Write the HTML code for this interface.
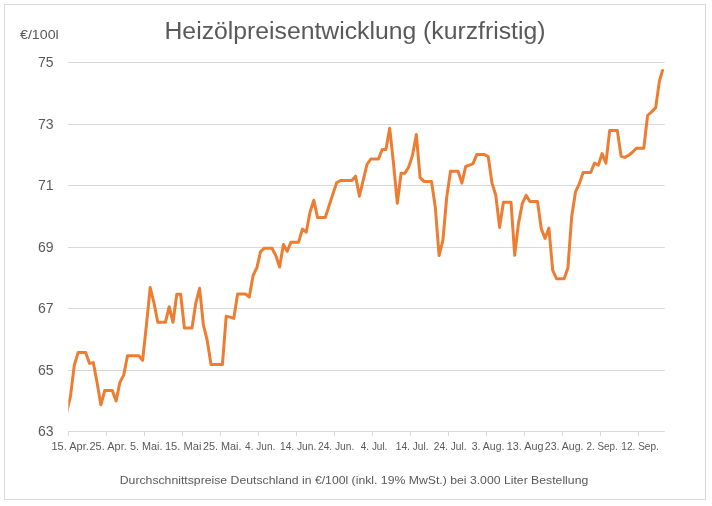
<!DOCTYPE html>
<html><head><meta charset="utf-8"><title>Heizölpreisentwicklung</title>
<style>
html,body{margin:0;padding:0;background:#fff;}
body{width:712px;height:506px;overflow:hidden;font-family:"Liberation Sans",sans-serif;}
svg{display:block;}
text{font-family:"Liberation Sans",sans-serif;fill:#595959;}
svg{will-change:transform;}
</style></head><body>
<svg width="712" height="506" viewBox="0 0 712 506">
<rect x="0" y="0" width="712" height="506" fill="#ffffff"/>
<rect x="4.5" y="4.5" width="701" height="495" fill="#ffffff" stroke="#d9d9d9" stroke-width="1"/>
<defs><clipPath id="plot"><rect x="68.3" y="50" width="600" height="390"/></clipPath></defs>

<line x1="68" x2="664.8" y1="62.5" y2="62.5" stroke="#d9d9d9" stroke-width="1"/>
<line x1="68" x2="664.8" y1="124.5" y2="124.5" stroke="#d9d9d9" stroke-width="1"/>
<line x1="68" x2="664.8" y1="185.5" y2="185.5" stroke="#d9d9d9" stroke-width="1"/>
<line x1="68" x2="664.8" y1="247.5" y2="247.5" stroke="#d9d9d9" stroke-width="1"/>
<line x1="68" x2="664.8" y1="308.5" y2="308.5" stroke="#d9d9d9" stroke-width="1"/>
<line x1="68" x2="664.8" y1="370.5" y2="370.5" stroke="#d9d9d9" stroke-width="1"/>
<line x1="68" x2="664.8" y1="431.5" y2="431.5" stroke="#d9d9d9" stroke-width="1"/>
<line x1="68.5" x2="68.5" y1="431" y2="436" stroke="#d9d9d9" stroke-width="1"/>
<line x1="106.5" x2="106.5" y1="431" y2="436" stroke="#d9d9d9" stroke-width="1"/>
<line x1="144.5" x2="144.5" y1="431" y2="436" stroke="#d9d9d9" stroke-width="1"/>
<line x1="182.5" x2="182.5" y1="431" y2="436" stroke="#d9d9d9" stroke-width="1"/>
<line x1="220.5" x2="220.5" y1="431" y2="436" stroke="#d9d9d9" stroke-width="1"/>
<line x1="258.5" x2="258.5" y1="431" y2="436" stroke="#d9d9d9" stroke-width="1"/>
<line x1="296.5" x2="296.5" y1="431" y2="436" stroke="#d9d9d9" stroke-width="1"/>
<line x1="334.5" x2="334.5" y1="431" y2="436" stroke="#d9d9d9" stroke-width="1"/>
<line x1="372.5" x2="372.5" y1="431" y2="436" stroke="#d9d9d9" stroke-width="1"/>
<line x1="410.5" x2="410.5" y1="431" y2="436" stroke="#d9d9d9" stroke-width="1"/>
<line x1="448.5" x2="448.5" y1="431" y2="436" stroke="#d9d9d9" stroke-width="1"/>
<line x1="486.5" x2="486.5" y1="431" y2="436" stroke="#d9d9d9" stroke-width="1"/>
<line x1="524.5" x2="524.5" y1="431" y2="436" stroke="#d9d9d9" stroke-width="1"/>
<line x1="562.5" x2="562.5" y1="431" y2="436" stroke="#d9d9d9" stroke-width="1"/>
<line x1="600.5" x2="600.5" y1="431" y2="436" stroke="#d9d9d9" stroke-width="1"/>
<line x1="638.5" x2="638.5" y1="431" y2="436" stroke="#d9d9d9" stroke-width="1"/>
<text x="53.6" y="67.1" font-size="14.1" text-anchor="end" textLength="15.6" lengthAdjust="spacingAndGlyphs">75</text>
<text x="53.6" y="129.1" font-size="14.1" text-anchor="end" textLength="15.6" lengthAdjust="spacingAndGlyphs">73</text>
<text x="53.6" y="190.1" font-size="14.1" text-anchor="end" textLength="15.6" lengthAdjust="spacingAndGlyphs">71</text>
<text x="53.6" y="252.1" font-size="14.1" text-anchor="end" textLength="15.6" lengthAdjust="spacingAndGlyphs">69</text>
<text x="53.6" y="313.1" font-size="14.1" text-anchor="end" textLength="15.6" lengthAdjust="spacingAndGlyphs">67</text>
<text x="53.6" y="375.1" font-size="14.1" text-anchor="end" textLength="15.6" lengthAdjust="spacingAndGlyphs">65</text>
<text x="53.6" y="436.1" font-size="14.1" text-anchor="end" textLength="15.6" lengthAdjust="spacingAndGlyphs">63</text>
<text x="20" y="38.8" font-size="12.4" textLength="38.7" lengthAdjust="spacingAndGlyphs">€/100l</text>
<text x="355" y="38.9" font-size="23" text-anchor="middle" textLength="381" lengthAdjust="spacingAndGlyphs">Heizölpreisentwicklung (kurzfristig)</text>
<text x="51.5" y="449.6" font-size="10.75" textLength="37.3" lengthAdjust="spacingAndGlyphs">15. Apr.</text>
<text x="89.5" y="449.6" font-size="10.75" textLength="37.3" lengthAdjust="spacingAndGlyphs">25. Apr.</text>
<text x="129.9" y="449.6" font-size="10.75" textLength="32.5" lengthAdjust="spacingAndGlyphs">5. Mai.</text>
<text x="164.9" y="449.6" font-size="10.75" textLength="36.5" lengthAdjust="spacingAndGlyphs">15. Mai</text>
<text x="202.9" y="449.6" font-size="10.75" textLength="38.6" lengthAdjust="spacingAndGlyphs">25. Mai.</text>
<text x="245.1" y="449.6" font-size="10.75" textLength="30.2" lengthAdjust="spacingAndGlyphs">4. Jun.</text>
<text x="280.0" y="449.6" font-size="10.75" textLength="36.3" lengthAdjust="spacingAndGlyphs">14. Jun.</text>
<text x="318.0" y="449.6" font-size="10.75" textLength="36.3" lengthAdjust="spacingAndGlyphs">24. Jun.</text>
<text x="360.8" y="449.6" font-size="10.75" textLength="26.6" lengthAdjust="spacingAndGlyphs">4. Jul.</text>
<text x="395.8" y="449.6" font-size="10.75" textLength="32.7" lengthAdjust="spacingAndGlyphs">14. Jul.</text>
<text x="433.8" y="449.6" font-size="10.75" textLength="32.7" lengthAdjust="spacingAndGlyphs">24. Jul.</text>
<text x="471.8" y="449.6" font-size="10.75" textLength="32.6" lengthAdjust="spacingAndGlyphs">3. Aug.</text>
<text x="506.8" y="449.6" font-size="10.75" textLength="36.6" lengthAdjust="spacingAndGlyphs">13. Aug</text>
<text x="544.8" y="449.6" font-size="10.75" textLength="38.7" lengthAdjust="spacingAndGlyphs">23. Aug.</text>
<text x="586.4" y="449.6" font-size="10.75" textLength="31.5" lengthAdjust="spacingAndGlyphs">2. Sep.</text>
<text x="621.3" y="449.6" font-size="10.75" textLength="37.6" lengthAdjust="spacingAndGlyphs">12. Sep.</text>
<text x="354" y="484.2" font-size="10.75" text-anchor="middle" textLength="468.5" lengthAdjust="spacingAndGlyphs">Durchschnittspreise Deutschland in €/100l (inkl. 19% MwSt.) bei 3.000 Liter Bestellung</text>
<polyline clip-path="url(#plot)" fill="none" stroke="#ed7d31" stroke-width="3" stroke-linejoin="round" stroke-linecap="round" points="66.7,412.1 70.5,396.1 74.3,365.3 78.1,352.6 81.9,352.6 85.7,352.6 89.5,363.4 93.3,362.6 97.1,382.7 100.9,404.8 104.7,390.6 108.5,390.6 112.3,390.6 116.1,400.9 119.9,382.4 123.7,375.1 127.5,355.7 131.3,355.7 135.0,355.7 138.8,355.7 142.6,360.4 146.4,325.4 150.2,287.5 154.0,303.0 157.8,322.3 161.6,322.3 165.4,322.3 169.2,306.7 173.0,322.3 176.8,294.2 180.6,294.2 184.4,328.0 188.2,328.0 192.0,328.0 195.8,303.1 199.6,288.3 203.4,325.0 207.2,340.3 211.0,364.6 214.8,364.6 218.6,364.6 222.4,364.6 226.2,316.3 230.0,317.1 233.8,318.4 237.6,294.0 241.7,294.0 245.5,294.0 249.3,297.0 253.1,275.5 256.9,267.7 260.6,251.6 264.4,248.2 268.2,248.2 272.0,248.2 275.8,255.5 279.6,267.0 283.4,244.4 287.2,251.2 291.0,242.2 294.8,242.2 298.6,242.2 302.4,229.1 306.2,232.2 310.0,212.2 313.8,200.2 317.6,217.6 321.4,217.6 325.2,217.6 329.0,206.0 332.8,194.4 336.6,182.8 340.4,180.5 344.2,180.5 348.0,180.5 351.8,180.5 355.6,176.2 359.4,196.2 363.2,180.4 367.0,164.5 370.8,159.0 374.6,159.0 378.4,159.0 382.2,149.5 385.9,149.5 389.7,128.2 393.5,163.4 397.3,203.2 401.1,173.3 404.9,173.3 408.7,167.1 412.5,155.4 416.3,134.4 420.1,177.6 423.9,181.4 427.7,181.4 431.5,181.4 435.3,207.2 439.1,255.6 442.9,240.4 446.7,197.5 450.5,171.2 454.3,171.2 458.1,171.2 461.9,183.1 465.7,166.5 469.5,165.1 473.0,163.7 476.8,154.6 480.6,154.6 484.4,154.6 488.2,156.5 492.0,183.1 495.8,195.3 499.6,227.4 503.4,202.2 507.2,202.2 511.0,202.2 514.7,255.3 518.5,223.4 522.3,203.6 526.1,195.3 529.9,201.6 533.7,201.6 537.5,201.6 541.3,228.9 545.1,238.4 548.9,228.1 552.7,270.4 556.5,278.7 560.3,278.7 564.1,278.7 567.9,268.1 571.7,216.5 575.5,191.9 579.3,183.9 583.1,172.5 586.9,172.5 590.7,172.5 594.5,163.0 598.3,165.2 602.1,153.6 605.9,163.3 609.7,130.4 613.5,130.4 617.3,130.4 621.1,156.4 624.9,157.4 628.7,155.3 632.5,152.3 636.3,148.2 640.0,148.2 643.8,148.2 647.6,115.5 651.6,111.9 655.7,107.6 659.4,81.1 662.5,70.5"/>
</svg></body></html>
